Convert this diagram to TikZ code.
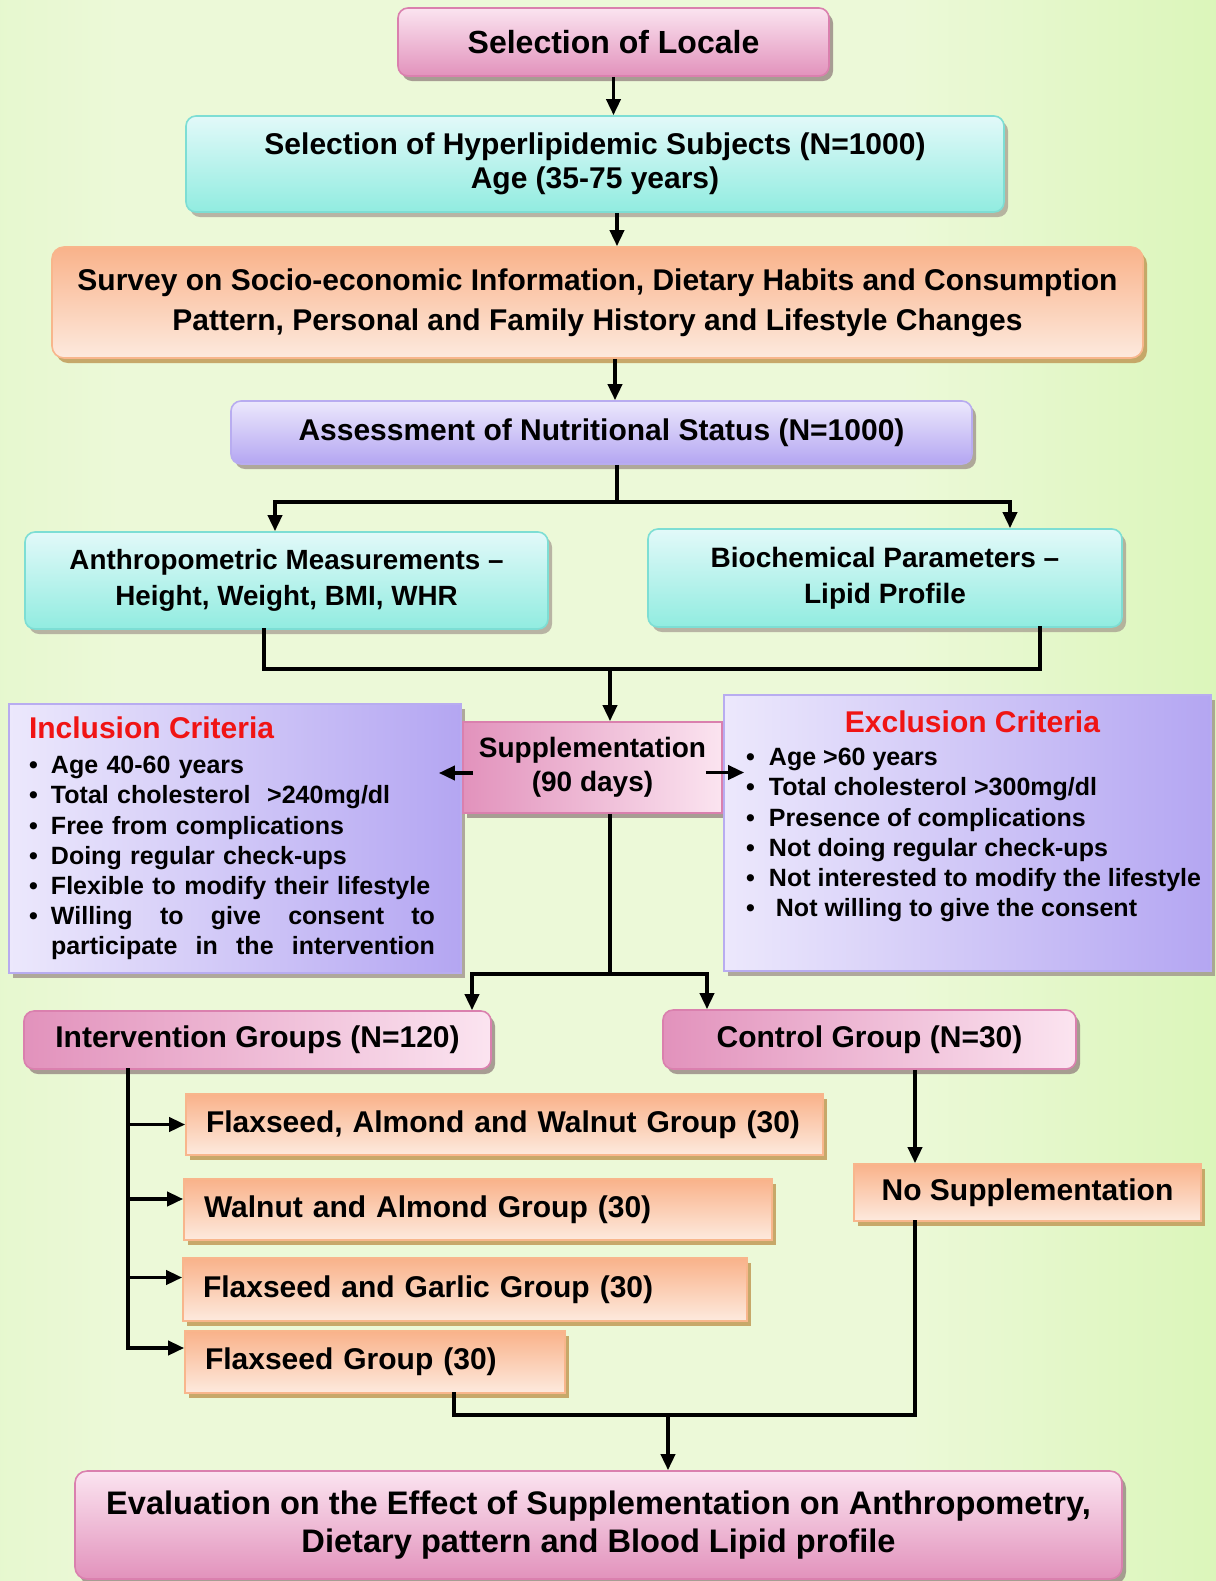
\documentclass[tikz,border=0pt]{standalone}
\usepackage{fontspec}
\setmainfont{Liberation Sans}
\usetikzlibrary{arrows.meta,shadows}
\definecolor{bgleft}{RGB}{202,240,162}
\definecolor{bgmid}{RGB}{236,249,216}
\definecolor{bgright}{RGB}{200,242,152}
\definecolor{pinkdark}{RGB}{226,146,188}
\definecolor{pinklight}{RGB}{251,228,240}
\definecolor{pinkline}{RGB}{218,128,174}
\definecolor{cyandark}{RGB}{145,236,224}
\definecolor{cyanlight}{RGB}{226,249,249}
\definecolor{cyanline}{RGB}{125,222,212}
\definecolor{peachdark}{RGB}{249,178,138}
\definecolor{peachlight}{RGB}{253,234,222}
\definecolor{peachline}{RGB}{248,182,140}
\definecolor{lavdark}{RGB}{180,166,242}
\definecolor{lavlight}{RGB}{236,232,252}
\definecolor{lavline}{RGB}{184,172,240}
\definecolor{critred}{RGB}{240,20,20}
\definecolor{shadowgray}{RGB}{150,135,130}
\definecolor{shadowtan}{RGB}{195,160,95}
\pgfdeclarehorizontalshading{bgshade}{100bp}{color(0bp)=(bgleft); color(30bp)=(bgmid);
    color(62bp)=(bgmid); color(90bp)=(bgright); color(100bp)=(bgright)}
\newcommand{\flowfont}[2]{\fontsize{#1}{#2}\selectfont\bfseries}
\newcommand{\crittitle}{\fontsize{15}{18}\selectfont\bfseries\color{critred}}
\newcommand{\critem}[2][11pt]{\makebox[#1][l]{\textbullet}#2}
\newcommand{\exitem}[1]{\hspace*{6pt}\critem[11.5pt]{#1}}
\tikzset{
    flowbox/.style={draw, line width=0.8pt, align=center, inner sep=0pt,
        font=\flowfont{15}{18}},
    pinkbox/.style={flowbox, draw=pinkline, top color=pinklight, bottom color=pinkdark,
        drop shadow={shadow xshift=2pt, shadow yshift=-2.5pt, fill=shadowgray, opacity=.8}},
    cyanbox/.style={flowbox, draw=cyanline, top color=cyanlight, bottom color=cyandark,
        rounded corners=5pt,
        drop shadow={shadow xshift=2pt, shadow yshift=-2.5pt, fill=shadowgray, opacity=.6}},
    peachbox/.style={flowbox, draw=peachline, top color=peachdark, bottom color=peachlight,
        drop shadow={shadow xshift=2pt, shadow yshift=-2.5pt, fill=shadowtan, opacity=.9}},
    grpbox/.style={peachbox, align=left, inner xsep=10pt},
    lavbox/.style={flowbox, draw=lavline, top color=lavlight, bottom color=lavdark,
        drop shadow={shadow xshift=2pt, shadow yshift=-2.5pt, fill=shadowgray, opacity=.7}},
    critbox/.style={lavbox, left color=lavlight, right color=lavdark, align=left,
        font=\flowfont{12.5}{15.1}},
    conn/.style={line width=1.8pt, black, line cap=rect},
    arr/.style={conn, line cap=butt, -{Triangle[length=8pt,width=7pt]}},
}
\begin{document}
\begin{tikzpicture}[x=0.5pt, y=-0.5pt]
\useasboundingbox (0,0) rectangle (1216,1581);
\shade[shading=bgshade] (0,0) rectangle (1216,1581);

% top of the chart
\node[pinkbox, rounded corners=5pt, minimum width=215.5pt, minimum height=34pt,
    font=\flowfont{16}{19}] (locale) at (613.5,42) {Selection of Locale};
\node[cyanbox, minimum width=409pt, minimum height=48pt, font=\flowfont{15}{17.3}] (hyper) at (595,164)
    {Selection of Hyperlipidemic Subjects (N=1000)\\Age (35-75 years)};
\node[peachbox, rounded corners=6pt, minimum width=545.5pt, minimum height=55.5pt,
    font=\flowfont{15}{20}] (survey) at (597.5,302.5)
    {Survey on Socio-economic Information, Dietary Habits and Consumption\\
     Pattern, Personal and Family History and Lifestyle Changes};
\node[lavbox, rounded corners=5pt, minimum width=370.5pt, minimum height=31.5pt] (assess) at (601.5,432.5)
    {Assessment of Nutritional Status (N=1000)};
\node[cyanbox, minimum width=261.5pt, minimum height=48.5pt, font=\flowfont{13.9}{18}] (anthro) at (286.5,580.5)
    {Anthropometric Measurements –\\Height, Weight, BMI, WHR};
\node[cyanbox, minimum width=237pt, minimum height=49pt, font=\flowfont{14}{18}] (biochem) at (885,578)
    {Biochemical Parameters –\\Lipid Profile};

% criteria and supplementation
\node[critbox, minimum width=226pt, minimum height=134.5pt, text width=206pt, inner xsep=10pt] (incl) at (235,838.5)
    {{\crittitle Inclusion Criteria}\\[2.5pt]
     \critem{Age 40-60 years}\\
     \critem{Total cholesterol\ \ >240mg/dl}\\
     \critem{Free from complications}\\
     \critem{Doing regular check-ups}\\
     \critem{Flexible to modify their lifestyle}\\
     \critem{\hbox to 192pt{Willing\hfill to\hfill give\hfill consent\hfill to}}\\
     \hspace*{11pt}\hbox to 192pt{participate\hfill in\hfill the\hfill intervention}};
\node[pinkbox, left color=pinkdark, right color=pinklight, minimum width=129.5pt, minimum height=45.5pt,
    font=\flowfont{14}{17}] (supp) at (592.5,767.5) {Supplementation\\(90 days)};
\node[critbox, minimum width=243.5pt, minimum height=138pt] (excl) at (967.5,833)
    {\makebox[232.5pt]{\crittitle\hspace*{6pt}Exclusion Criteria}\\[1.3pt]
     \exitem{Age >60 years}\\
     \exitem{Total cholesterol >300mg/dl}\\
     \exitem{Presence of complications}\\
     \exitem{Not doing regular check-ups}\\
     \exitem{Not interested to modify the lifestyle}\\
     \exitem{\ Not willing to give the consent}\\[4pt]\mbox{}};

% groups
\node[pinkbox, rounded corners=5pt, left color=pinkdark, right color=pinklight,
    minimum width=233.5pt, minimum height=29pt] (interv) at (257.5,1040) {Intervention Groups (N=120)};
\node[pinkbox, rounded corners=5pt, left color=pinkdark, right color=pinklight,
    minimum width=206.5pt, minimum height=29.5pt] (control) at (869.5,1039.5) {Control Group (N=30)};
\node[grpbox, text width=298.5pt, minimum height=30.5pt] (fawg) at (504.5,1124.5) {Flaxseed, Almond and Walnut Group (30)};
\node[grpbox, text width=274pt, minimum height=30.5pt] (wag) at (478,1209.5) {Walnut and Almond Group (30)};
\node[grpbox, text width=262pt, minimum height=31.5pt] (fgg) at (465,1289.5) {Flaxseed and Garlic Group (30)};
\node[grpbox, text width=170pt, minimum height=31pt] (fg) at (375,1362) {Flaxseed Group (30)};
\node[peachbox, minimum width=173.5pt, minimum height=28.5pt] (nosupp) at (1027.5,1192.5) {No Supplementation};
\node[pinkbox, rounded corners=6pt, minimum width=523.5pt, minimum height=54pt,
    font=\flowfont{16.3}{18.7}] (eval) at (598.5,1525)
    {Evaluation on the Effect of Supplementation on Anthropometry,\\Dietary pattern and Blood Lipid profile};

% connectors
\draw[arr] (locale.south) -- (locale.south |- hyper.north);
\draw[arr] ([xshift=11pt]hyper.south) -- ([xshift=11pt]hyper.south |- survey.north);
\draw[arr] ([xshift=8.75pt]survey.south) -- ([xshift=8.75pt]survey.south |- assess.north);
\draw[arr] ([xshift=7.75pt]assess.south) -- ++(0,37) coordinate (ab) -| ([xshift=-5.75pt]anthro.north);
\draw[arr] (ab) -| ([xshift=62.5pt]biochem.north);
\draw[conn] ([xshift=-11.25pt]anthro.south) -- ++(0,39) coordinate (mj) -| ([xshift=77.5pt]biochem.south);
\draw[arr] ([xshift=8.75pt]supp.north |- mj) -- ([xshift=8.75pt]supp.north);
\draw[arr] ([xshift=5.5pt,yshift=-2.75pt]supp.west) -- ([xshift=-11.5pt,yshift=-2.75pt]supp.west -| incl.east);
\draw[arr] ([xshift=-8.5pt,yshift=-2.5pt]supp.east) -- ([xshift=10.5pt,yshift=-2.5pt]supp.east -| excl.west);
\draw[arr] ([xshift=8.75pt]supp.south) -- ++(0,160) coordinate (sg) -| ([xshift=107.25pt]interv.north);
\draw[arr] (sg) -| ([xshift=-81.25pt]control.north);
\coordinate (iv) at ([xshift=-64.75pt]interv.south);
\draw[conn] (iv) -- ([yshift=7pt]fg.west -| iv);
\foreach \grp/\dy in {fawg/0pt, wag/5.25pt, fgg/6pt, fg/7pt}
    \draw[arr] ([yshift=\dy]\grp.west -| iv) -- ([yshift=\dy]\grp.west);
\draw[arr] ([xshift=22.75pt]control.south) -- ([xshift=22.75pt]control.south |- nosupp.north);
\draw[conn] ([xshift=39.5pt]fg.south) -- ++(0,21) coordinate (fj) -| ([xshift=-56.25pt]nosupp.south);
\draw[arr] ([xshift=34.75pt]eval.north |- fj) -- ([xshift=34.75pt]eval.north);
\end{tikzpicture}
\end{document}
